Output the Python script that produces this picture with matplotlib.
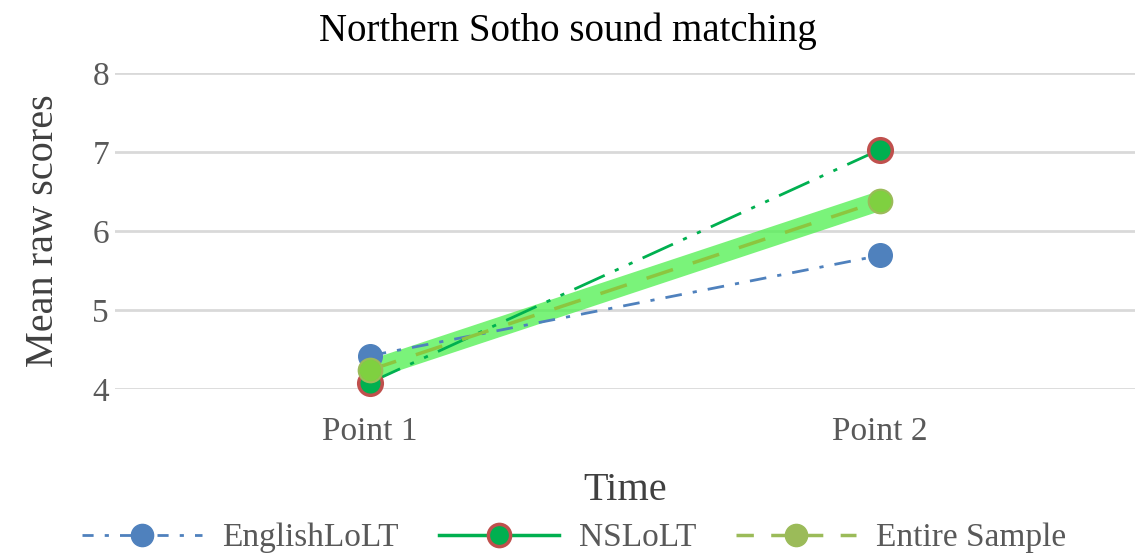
import matplotlib
matplotlib.use("Agg")
import matplotlib.pyplot as plt
from matplotlib.lines import Line2D

categories = ["Point 1", "Point 2"]
english = [4.42, 5.69]
nslolt = [4.08, 7.03]
entire = [4.24, 6.38]
yticks = [4, 5, 6, 7, 8]

plt.rcParams['font.family'] = ['Liberation Serif', 'DejaVu Serif']

fig = plt.figure(figsize=(11.35, 5.53), dpi=100)
ax = fig.add_axes([0.101, 0.2966, 0.899, 0.5714])

x = [0.25, 0.75]
blue = "#4f81bd"
green = "#00b050"
olive = "#9bbb59"

ax.plot(x, english, color=blue, lw=2, dashes=[6, 4, 1.5, 4], zorder=3)
ax.plot(x, english, 'o', color=blue, ms=17, zorder=4)
ax.plot(x, nslolt, color=green, lw=2, dashes=[12, 4, 1.5, 4, 1.5, 4], zorder=3)
ax.plot(x, nslolt, 'o', color=green, mec="#c0504d", mew=2.5, ms=17, zorder=5)
ax.plot(x, entire, color="#4ef04e", lw=14, alpha=0.75, solid_capstyle='round', zorder=2)
ax.plot(x, entire, color="#8cc63f", lw=2.5, dashes=[8, 6], zorder=3)
ax.plot(x, entire, 'o', color="#7fd040", ms=17, mec="#9bbb59", mew=1.5, zorder=6)

ax.set_xlim(0, 1)
ax.set_ylim(4, 8)
ax.set_yticks(yticks)
ax.set_xticks(x)
ax.set_xticklabels(categories)
ax.tick_params(axis='both', length=0, labelsize=24, colors="#595959")
ax.tick_params(axis='x', pad=20)
ax.tick_params(axis='y', pad=4)
ax.grid(axis='y', color="#d9d9d9", lw=2)
ax.set_axisbelow(True)
for s in ax.spines.values():
    s.set_visible(False)
for l in ax.lines:
    l.set_clip_on(False)

fig.suptitle("Northern Sotho sound matching", fontsize=28, x=0.5, y=0.978, va='top')
ax.set_xlabel("Time", fontsize=29, color="#404040", labelpad=18)
ax.set_ylabel("Mean raw scores", fontsize=29, color="#404040", labelpad=22)

handles = [
    Line2D([], [], color=blue, lw=2, dashes=[4, 4, 1.5, 4], marker='o', ms=16),
    Line2D([], [], color=green, lw=2.5, marker='o', ms=16, mec="#c0504d", mew=2.5),
    Line2D([], [], color=olive, lw=2.5, dashes=[5, 5], marker='o', ms=16),
]
fig.legend(handles, ["EnglishLoLT", "NSLoLT", "Entire Sample"], loc="lower center",
           ncol=3, frameon=False, fontsize=24, bbox_to_anchor=(0.506, -0.055),
           handlelength=3.6, handletextpad=0.6, columnspacing=1.2, labelcolor="#595959")

fig.savefig("out.png", dpi=100)
